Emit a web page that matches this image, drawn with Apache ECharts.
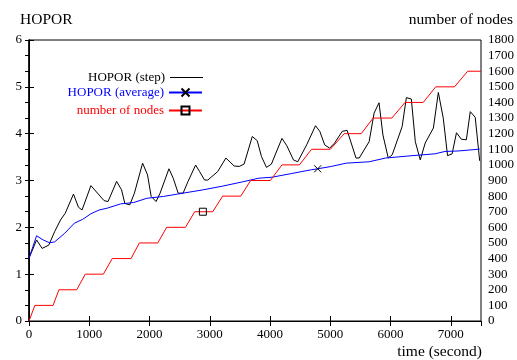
<!DOCTYPE html>
<html>
<head>
    <meta charset="utf-8">
    <title>HOPOR</title>
    <script src="https://cdn.jsdelivr.net/npm/echarts@6/dist/echarts.min.js"></script>
    <style>
        html, body { margin: 0; padding: 0; background: #fff; }
    </style>
</head>
<body>
<div id="main" style="width: 517px;height:360px;"></div>
<script type="text/javascript">
    // 时间 (秒), 数值 —— 从原图读出
    var stepData = [
        [0,1.34],[126,1.73],[218,1.55],[328,1.62],[426,1.91],[524,2.16],[601,2.30],[738,2.71],
        [820,2.43],[880,2.37],[1027,2.89],[1164,2.69],[1246,2.57],[1311,2.55],[1454,2.98],[1536,2.80],
        [1590,2.51],[1672,2.48],[1749,2.73],[1885,3.37],[1967,3.12],[2027,2.66],[2109,2.55],[2175,2.73],
        [2322,3.25],[2393,3.05],[2475,2.73],[2557,2.73],[2639,2.98],[2765,3.33],[2831,3.19],[2913,3.01],
        [2967,3.01],[3131,3.19],[3267,3.48],[3404,3.31],[3487,3.30],[3569,3.35],[3705,3.94],[3787,3.85],
        [3858,3.51],[3940,3.28],[4022,3.35],[4197,3.90],[4279,3.74],[4388,3.44],[4459,3.40],[4607,3.76],
        [4754,4.17],[4825,4.05],[4907,3.76],[4989,3.69],[5071,3.80],[5197,4.05],[5279,4.07],[5426,3.48],
        [5480,3.48],[5644,3.83],[5726,4.44],[5808,4.66],[5873,3.97],[5961,3.48],[6027,3.55],[6191,4.15],
        [6262,4.77],[6344,4.74],[6410,3.83],[6492,3.44],[6574,3.80],[6710,4.12],[6792,4.88],[6874,4.33],
        [6945,3.53],[7021,3.57],[7093,4.02],[7175,3.88],[7257,3.87],[7322,4.47],[7404,4.35],[7437,4.35],
        [7478,3.42]
    ];
    var averageData = [
        [0,1.34],[126,1.82],[235,1.73],[344,1.67],[426,1.69],[590,1.87],[754,2.09],[890,2.17],
        [1027,2.29],[1164,2.37],[1300,2.41],[1519,2.50],[1738,2.53],[1956,2.62],[2230,2.66],[2557,2.73],
        [2885,2.80],[3213,2.88],[3541,2.97],[3814,3.05],[4033,3.07],[4361,3.15],[4689,3.23],[4790,3.25],
        [5016,3.30],[5262,3.37],[5644,3.40],[5918,3.48],[6355,3.53],[6738,3.57],[6902,3.62],[7120,3.63],
        [7480,3.67]
    ];
    var nodesData = [
        [0,0],[98,100],[399,100],[497,200],[792,200],[934,300],[1234,300],[1382,400],
        [1694,400],[1831,500],[2137,500],[2284,600],[2596,600],[2749,700],[2885,700],[3049,700],
        [3213,800],[3514,800],[3678,900],[4005,900],[4197,1000],[4487,1000],[4689,1100],[5000,1100],
        [5230,1200],[5513,1200],[5710,1300],[6021,1300],[6240,1400],[6541,1400],[6749,1500],[7060,1500],
        [7279,1600],[7500,1600]
    ];
    // 点标记所在的时间
    var averageMarkAt = 4790;
    var nodesMarkAt = 2885;

    var names = ['HOPOR (step)', 'HOPOR (average)', 'number of nodes'];
    var colors = ['#000000', '#0000ff', '#ff0000'];

    var font = '"Liberation Serif", "DejaVu Serif", serif';
    var crossPath = 'path://M0,0L10,10M10,0L0,10';
    var plainLine = 'path://M0,4.5L33,4.5L33,5.5L0,5.5Z';

    function markSize(t, size) {
        return function (val) { return val[0] === t ? size : 0; };
    }

    function plain(v) { return String(v); }

    function legendAt(i, top, icon) {
        var item = { name: names[i], textStyle: { color: colors[i] } };
        if (icon) item.icon = icon;
        return {
            data: [item],
            orient: 'vertical',
            align: 'right',
            right: 314,
            top: top,
            itemWidth: 33,
            itemHeight: 10,
            itemGap: 5,
            padding: 0,
            selectedMode: false,
            textStyle: { fontFamily: font, fontSize: 13, padding: [0, 0, 0, 0] }
        };
    }

    var myChart = echarts.init(document.getElementById('main'));

    var option = {
        animation: false,
        backgroundColor: '#ffffff',
        title: [
            { text: 'HOPOR', left: 20, top: 12, padding: 0,
              textStyle: { fontFamily: font, fontSize: 15.5, fontWeight: 'normal', color: '#000' } },
            { text: 'number of nodes', right: 4, top: 12, padding: 0,
              textStyle: { fontFamily: font, fontSize: 15.5, fontWeight: 'normal', color: '#000' } },
            { text: 'time (second)', right: 35, top: 344, padding: 0,
              textStyle: { fontFamily: font, fontSize: 15.5, fontWeight: 'normal', color: '#000' } }
        ],
        legend: [legendAt(0, 71, plainLine), legendAt(1, 86), legendAt(2, 104)],
        grid: {
            left: 29, right: 30, top: 40, bottom: 39,
            show: true, borderColor: '#000', borderWidth: 1,
            containLabel: false
        },
        xAxis: [{
            type: 'value',
            min: 0, max: 7500, interval: 1000,
            axisLine: { show: true, lineStyle: { color: '#000', width: 1 } },
            axisTick: { show: true, inside: true, length: 5, lineStyle: { color: '#000' } },
            axisLabel: { fontFamily: font, fontSize: 13, color: '#000', margin: 7,
                         showMaxLabel: false, formatter: plain },
            splitLine: { show: false }
        }, {
            type: 'value',
            position: 'top',
            min: 0, max: 7500, interval: 1000,
            axisLine: { show: true, lineStyle: { color: '#000', width: 1 } },
            axisTick: { show: true, inside: true, length: 5, lineStyle: { color: '#000' } },
            axisLabel: { show: false },
            splitLine: { show: false }
        }],
        yAxis: [{
            type: 'value',
            min: 0, max: 6, interval: 1,
            axisLine: { show: true, lineStyle: { color: '#000', width: 1.5 } },
            axisTick: { show: true, inside: true, length: 5, lineStyle: { color: '#000' } },
            axisLabel: { fontFamily: font, fontSize: 13, color: '#000', margin: 7, formatter: plain },
            splitLine: { show: false }
        }, {
            type: 'value',
            position: 'right',
            min: 0, max: 1800, interval: 100,
            axisLine: { show: true, lineStyle: { color: '#000', width: 1 } },
            axisTick: { show: true, inside: true, length: 4, lineStyle: { color: '#000' } },
            axisLabel: { fontFamily: font, fontSize: 13, color: '#000', margin: 7, formatter: plain },
            splitLine: { show: false }
        }],
        series: [{
            name: names[0],
            type: 'line',
            symbol: 'none',
            data: stepData,
            lineStyle: { color: colors[0], width: 1 },
            itemStyle: { color: colors[0] }
        }, {
            name: names[1],
            type: 'line',
            symbol: crossPath,
            symbolSize: markSize(averageMarkAt, 7),
            data: averageData,
            lineStyle: { color: colors[1], width: 1 },
            itemStyle: { color: 'rgba(0,0,0,0)', borderColor: '#000', borderWidth: 1 }
        }, {
            name: names[2],
            type: 'line',
            yAxisIndex: 1,
            symbol: 'rect',
            symbolSize: markSize(nodesMarkAt, 7),
            data: nodesData,
            lineStyle: { color: colors[2], width: 1 },
            itemStyle: { color: 'rgba(0,0,0,0)', borderColor: '#000', borderWidth: 1 }
        }]
    };

    myChart.setOption(option, true);
</script>
</body>
</html>
